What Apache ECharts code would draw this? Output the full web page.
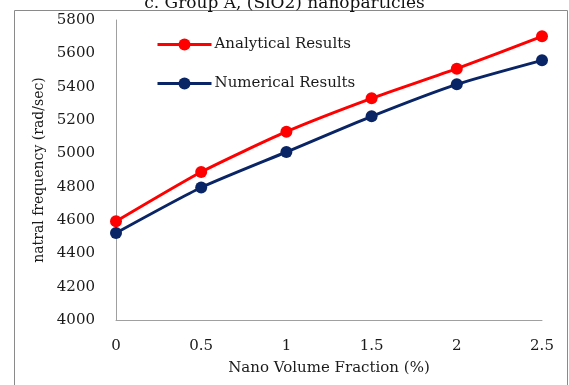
<!DOCTYPE html>
<html>
<head>
<meta charset="utf-8">
<script src="https://cdn.jsdelivr.net/npm/echarts@6/dist/echarts.min.js"></script>
<style>
  html, body { margin: 0; padding: 0; background: #fff; }
  #chart1 { width: 569px; height: 385px; }
</style>
</head>
<body>
<div id="chart1"></div>
<script>
var volumeFraction = [0, 0.5, 1, 1.5, 2, 2.5];
var analytical = [4592, 4888, 5130, 5330, 5508, 5702];
var numerical = [4522, 4795, 5008, 5222, 5414, 5558];
var seriesNames = ['Analytical Results', 'Numerical Results'];

function pairs (xs, ys) {
    return xs.map(function (x, i) { return [x, ys[i]] })
}

var myChart = echarts.init(document.getElementById('chart1'));
var font = '"DejaVu Serif", serif';
var option = {
    animation: false,
    textStyle: { fontFamily: font },
    title: {
        text: 'c. Group A, (SiO2) nanoparticles',
        left: 'center',
        top: -10,
        textStyle: { fontFamily: font, fontSize: 17, fontWeight: 'normal', color: '#111' }
    },
    graphic: [{
        type: 'rect',
        shape: { x: 14.5, y: 10.5, width: 553, height: 400 },
        style: { fill: 'none', stroke: '#8a8a8a', lineWidth: 1 }
    }],
    legend: {
        orient: 'vertical',
        left: 151,
        top: 32,
        itemWidth: 54,
        itemHeight: 15,
        itemGap: 24,
        lineStyle: { width: 3 },
        textStyle: { fontFamily: font, fontSize: 15, color: '#1a1a1a', padding: [0, 0, 0, -2] },
        data: seriesNames
    },
    grid: { left: 116, right: 27, top: 20, bottom: 65 },
    xAxis: {
        type: 'value',
        min: 0,
        max: 2.5,
        interval: 0.5,
        name: 'Nano Volume Fraction (%)',
        nameLocation: 'middle',
        nameGap: 41,
        nameTextStyle: { fontFamily: font, fontSize: 15, color: '#1a1a1a' },
        axisLine: { lineStyle: { color: '#a0a0a0' } },
        axisTick: { show: false },
        splitLine: { show: false },
        axisLabel: { fontFamily: font, fontSize: 15, color: '#1a1a1a', margin: 19 }
    },
    yAxis: {
        type: 'value',
        min: 4000,
        max: 5800,
        interval: 200,
        name: 'natral frequency (rad/sec)',
        nameLocation: 'middle',
        nameGap: 69,
        nameTextStyle: { fontFamily: font, fontSize: 14, color: '#1a1a1a' },
        axisLine: { show: true, lineStyle: { color: '#a0a0a0' } },
        axisTick: { show: false },
        splitLine: { show: false },
        axisLabel: {
            fontFamily: font, fontSize: 15, color: '#1a1a1a', margin: 21,
            formatter: function (v) { return String(v) }
        }
    },
    series: [
        {
            name: seriesNames[0],
            type: 'line',
            smooth: 0.2,
            symbol: 'circle',
            symbolSize: 12,
            data: pairs(volumeFraction, analytical),
            lineStyle: { color: '#ff0000', width: 3 },
            itemStyle: { color: '#ff0000' }
        },
        {
            name: seriesNames[1],
            type: 'line',
            smooth: 0.2,
            symbol: 'circle',
            symbolSize: 12,
            data: pairs(volumeFraction, numerical),
            lineStyle: { color: '#0a2566', width: 3 },
            itemStyle: { color: '#0a2566' }
        }
    ]
};
myChart.setOption(option);
window.onresize = myChart.resize;
</script>
</body>
</html>
